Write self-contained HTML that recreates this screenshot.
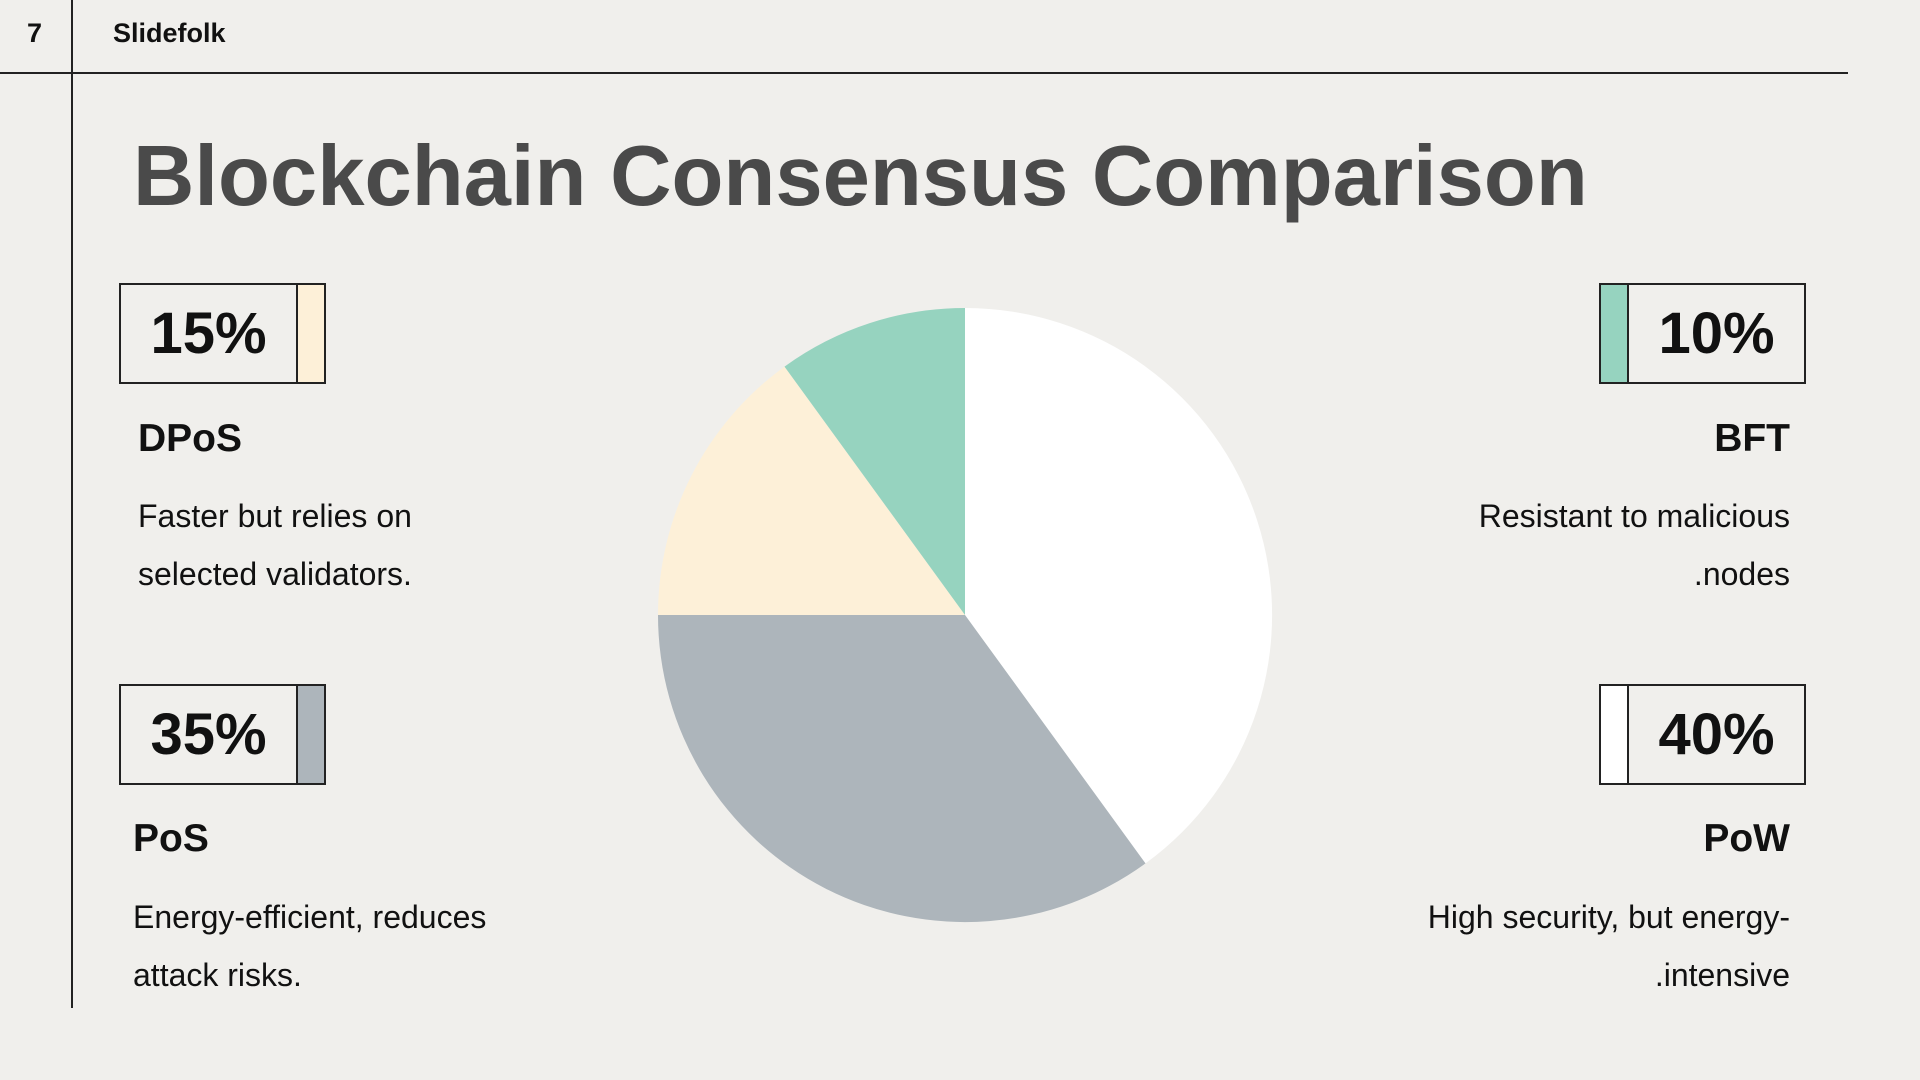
<!DOCTYPE html>
<html><head><meta charset="utf-8"><style>
body{margin:0;width:1920px;height:1080px;background:#f0efec;position:relative;overflow:hidden;font-family:"Liberation Sans","DejaVu Sans",sans-serif;color:#111}
.a{position:absolute;white-space:nowrap}
.box{position:absolute;border:2px solid #222;box-sizing:border-box;height:101px;width:207px}
.box .n{position:absolute;top:0;height:97px;line-height:97px;font-weight:bold;font-size:58px;text-align:center;width:175px}
.strip{position:absolute;top:0;height:97px;width:26px}
.h{font-weight:bold;font-size:39px}
.d{font-size:32px;line-height:58px}
</style></head><body>
<div class="a" style="left:0;top:72px;width:1848px;height:2px;background:#222"></div>
<div class="a" style="left:71px;top:0;width:2px;height:1008px;background:#222"></div>
<div class="a" style="left:27px;top:18px;font-size:27px;font-weight:bold">7</div>
<div class="a" style="left:113px;top:18px;font-size:27px;font-weight:bold">Slidefolk</div>
<div class="a" style="left:133px;top:128px;font-size:85px;font-weight:bold;color:#4a4a4a">Blockchain Consensus Comparison</div>

<div class="box" style="left:119px;top:283px"><div class="n" style="left:0">15%</div><div class="strip" style="left:175px;border-left:2px solid #222;background:#fdf0d8"></div></div>
<div class="a h" style="left:138px;top:417px">DPoS</div>
<div class="a d" style="left:138px;top:487px">Faster but relies on<br>selected validators.</div>

<div class="box" style="left:119px;top:684px"><div class="n" style="left:0">35%</div><div class="strip" style="left:175px;border-left:2px solid #222;background:#adb5bb"></div></div>
<div class="a h" style="left:133px;top:817px">PoS</div>
<div class="a d" style="left:133px;top:888px">Energy-efficient, reduces<br>attack risks.</div>

<div class="box" style="left:1599px;top:283px"><div class="strip" style="left:0;border-right:2px solid #222;background:#96d3bf"></div><div class="n" style="left:28px">10%</div></div>
<div class="a h" style="right:130px;top:417px">BFT</div>
<div class="a d" style="right:130px;top:487px;text-align:right">Resistant to malicious<br>.nodes</div>

<div class="box" style="left:1599px;top:684px"><div class="strip" style="left:0;border-right:2px solid #222;background:#fff"></div><div class="n" style="left:28px">40%</div></div>
<div class="a h" style="right:130px;top:817px">PoW</div>
<div class="a d" style="right:130px;top:888px;text-align:right">High security, but energy-<br>.intensive</div>

<svg class="a" style="left:0;top:0" width="1920" height="1080">
<path d="M965 615 L965 308 A307 307 0 0 1 1145.5 863.4 Z" fill="#ffffff"/>
<path d="M965 615 L1145.5 863.4 A307 307 0 0 1 658 615 Z" fill="#adb5bb"/>
<path d="M965 615 L658 615 A307 307 0 0 1 784.5 366.6 Z" fill="#fdf0d8"/>
<path d="M965 615 L784.5 366.6 A307 307 0 0 1 965 308 Z" fill="#96d3bf"/>
</svg>
</body></html>
